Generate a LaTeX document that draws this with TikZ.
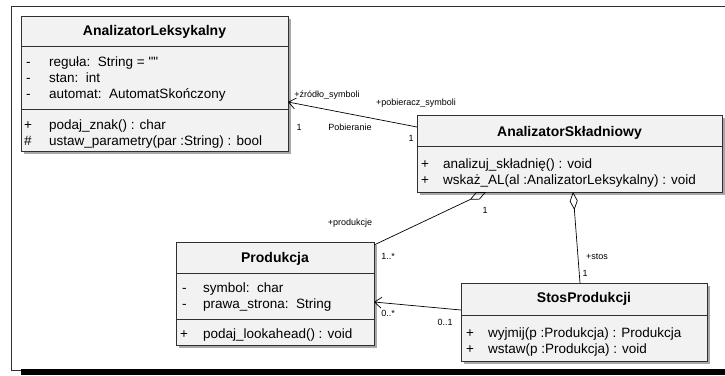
\documentclass[tikz,border=0pt]{standalone}
\usepackage{fontspec}
\setmainfont{Liberation Sans}
\usetikzlibrary{arrows.meta,shadows}

\definecolor{boxfill}{HTML}{F2F2F2}
\definecolor{boxline}{HTML}{303030}
\definecolor{shadowgray}{HTML}{A8A8A8}

\begin{document}
\begin{tikzpicture}[x=1pt, y=-1pt,
    umlbox/.style={draw=boxline, fill=boxfill, line width=0.8pt, anchor=north west,
      inner sep=0pt, outer sep=0pt,
      drop shadow={shadow xshift=3pt, shadow yshift=-3pt, fill=shadowgray, opacity=1}},
    title/.style={font=\fontsize{14}{16}\selectfont\bfseries, inner sep=0pt},
    row/.style={font=\fontsize{13.5}{16}\selectfont, anchor=base west, inner sep=0pt},
    lbl/.style={font=\fontsize{9}{10}\selectfont, inner sep=0pt},
    assoc/.style={draw=black, line width=0.7pt},
    navi/.style={-{Straight Barb[length=7pt, width=11pt, line width=0.7pt]}},
    aggr/.style={{Diamond[open, length=18pt, width=8pt, line width=0.7pt]}-}]
  \useasboundingbox (0,0) rectangle (725,375);

  % ramka
  \draw[boxline, line width=0.8pt] (725,6)--(11,6)--(11,370)--(21,370);
  \fill[black] (21,369) rectangle (725,375);

  % klasy
  \node[umlbox, minimum width=267pt, minimum height=135pt] (AL) at (21,16) {};
  \node[umlbox, minimum width=305pt, minimum height=77pt] (AS) at (417,115) {};
  \node[umlbox, minimum width=198pt, minimum height=103pt] (P) at (176,242) {};
  \node[umlbox, minimum width=246pt, minimum height=78pt] (SP) at (461,283) {};

  % przegrody
  \draw[boxline, line width=0.8pt] (21,46)--(288,46) (21,109)--(288,109);
  \draw[boxline, line width=0.8pt] (417,146)--(722,146);
  \draw[boxline, line width=0.8pt] (176,273)--(374,273) (176,319)--(374,319);
  \draw[boxline, line width=0.8pt] (461,315)--(707,315);

  % AnalizatorLeksykalny
  \node[title] (ALt) at (154.5,32) {AnalizatorLeksykalny};
  \node[row] (ALm1) at (26,66) {-};
  \node[row] (ALa1) at (49,66) {reguła:\ \ String = \textquotedbl\textquotedbl};
  \node[row] (ALm2) at (26,82) {-};
  \node[row] (ALa2) at (49,82) {stan:\ \ int};
  \node[row] (ALm3) at (26,98) {-};
  \node[row] (ALa3) at (49,98) {automat:\ \ AutomatSkończony};
  \node[row] (ALm4) at (24,129) {+};
  \node[row] (ALo1) at (49,129) {podaj\_znak() : char};
  \node[row] (ALm5) at (24,145) {\#};
  \node[row] (ALo2) at (49,145) {ustaw\_parametry(par :String) : bool};

  % AnalizatorSkladniowy
  \node[title] (ASt) at (569.5,133) {AnalizatorSkładniowy};
  \node[row] (ASm1) at (421,168) {+};
  \node[row] (ASo1) at (443,168) {analizuj\_składnię() : void};
  \node[row] (ASm2) at (421,184) {+};
  \node[row] (ASo2) at (443,184) {wskaż\_AL(al :AnalizatorLeksykalny) : void};

  % Produkcja
  \node[title] (Pt) at (275,259) {Produkcja};
  \node[row] (Pm1) at (182,292) {-};
  \node[row] (Pa1) at (203,292) {symbol:\ \ char};
  \node[row] (Pm2) at (182,308) {-};
  \node[row] (Pa2) at (203,308) {prawa\_strona:\ \ String};
  \node[row] (Pm3) at (180,338) {+};
  \node[row] (Po1) at (203,338) {podaj\_lookahead() : void};

  % StosProdukcji
  \node[title] (SPt) at (584,299) {StosProdukcji};
  \node[row] (SPm1) at (466,337) {+};
  \node[row] (SPo1) at (488,337) {wyjmij(p :Produkcja) : Produkcja};
  \node[row] (SPm2) at (466,353) {+};
  \node[row] (SPo2) at (488,353) {wstaw(p :Produkcja) : void};

  % punkty zaczepienia
  \coordinate (ASw) at (417,127);
  \coordinate (ALe) at (288,102);
  \coordinate (ASs1) at (486,192);
  \coordinate (Pne) at (374,245);
  \coordinate (ASs2) at (573,192);
  \coordinate (SPn) at (580,283);
  \coordinate (SPw) at (461,310);
  \coordinate (Pe) at (374,302);

  % asocjacje
  \draw[assoc, navi] (ASw)--(ALe);
  \draw[assoc, aggr] (ASs1)--(Pne);
  \draw[assoc, aggr] (ASs2)--(SPn);
  \draw[assoc, navi] (SPw)--(Pe);

  % etykiety
  \node[lbl] (l1) at (327,95) {+źródło\_symboli};
  \node[lbl] (l2) at (416,103) {+pobieracz\_symboli};
  \node[lbl] (l3) at (299,127) {1};
  \node[lbl] (l4) at (350,127) {Pobieranie};
  \node[lbl] (l5) at (411,138) {1};
  \node[lbl] (l6) at (350,223) {+produkcje};
  \node[lbl] (l7) at (388,256) {1..*};
  \node[lbl] (l8) at (485,210) {1};
  \node[lbl] (l9) at (597,257) {+stos};
  \node[lbl] (l10) at (585,273) {1};
  \node[lbl] (l11) at (388,313) {0..*};
  \node[lbl] (l12) at (445,322) {0..1};
\end{tikzpicture}
\end{document}
